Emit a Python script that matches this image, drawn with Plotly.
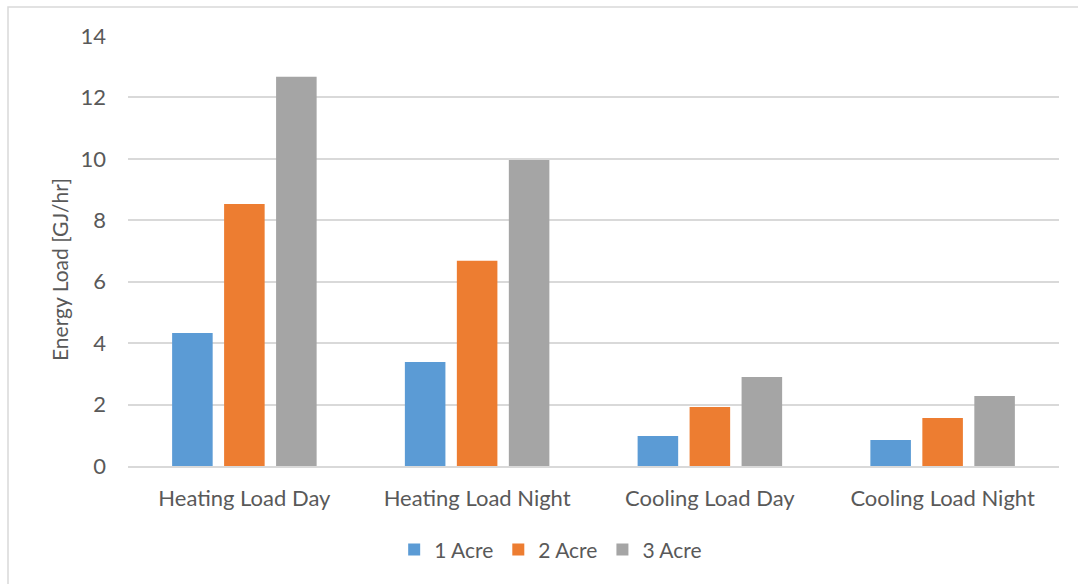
import plotly.graph_objects as go

categories = ["Heating Load Day", "Heating Load Night", "Cooling Load Day", "Cooling Load Night"]
acre1 = [4.33, 3.39, 0.98, 0.85]
acre2 = [8.53, 6.68, 1.92, 1.56]
acre3 = [12.67, 9.96, 2.90, 2.28]
series_names = ["1 Acre", "2 Acre", "3 Acre"]
colors = ["#5B9BD5", "#ED7D31", "#A5A5A5"]
y_title = "Energy Load [GJ/hr]"

FONT = "Lato"
TXT = "#595959"
FS = 22

fig = go.Figure()
for name, vals, c in zip(series_names, [acre1, acre2, acre3], colors):
    fig.add_trace(go.Bar(name=name, x=categories, y=vals, marker=dict(color=c, line=dict(width=0))))

fig.update_layout(
    width=1078, height=584,
    margin=dict(l=128, r=19, t=36, b=118),
    paper_bgcolor="white", plot_bgcolor="white",
    barmode="group", bargap=0.33, bargroupgap=0.22,
    font=dict(family=FONT, color=TXT, size=FS),
    legend=dict(orientation="h", x=0.454, xanchor="center", y=-0.195, yanchor="middle",
                font=dict(size=FS - 1, color=TXT), itemwidth=30, traceorder="normal"),
    shapes=[dict(type="rect", xref="paper", yref="paper",
                 x0=-120/931, x1=1.05, y0=-0.6, y1=(466-7)/430,
                 line=dict(color="#D9D9D9", width=1.5), fillcolor="rgba(0,0,0,0)", layer="below")],
    annotations=[dict(text=y_title, xref="paper", yref="paper",
                      x=(59-128)/931, y=(466-270)/430, xanchor="center", yanchor="middle",
                      textangle=-90, showarrow=False, font=dict(size=21, color=TXT, family=FONT))],
)
fig.update_yaxes(range=[0, 14], dtick=2, showgrid=True, gridcolor="#D9D9D9", gridwidth=1.5,
                 zeroline=False, showline=False, ticks="", ticklabelstandoff=21,
                 tickfont=dict(size=FS, color=TXT))
fig.update_xaxes(showline=True, linecolor="#D9D9D9", linewidth=1.5, ticks="",
                 tickfont=dict(size=FS, color=TXT), ticklabelstandoff=12)

fig.write_html("out.html")
